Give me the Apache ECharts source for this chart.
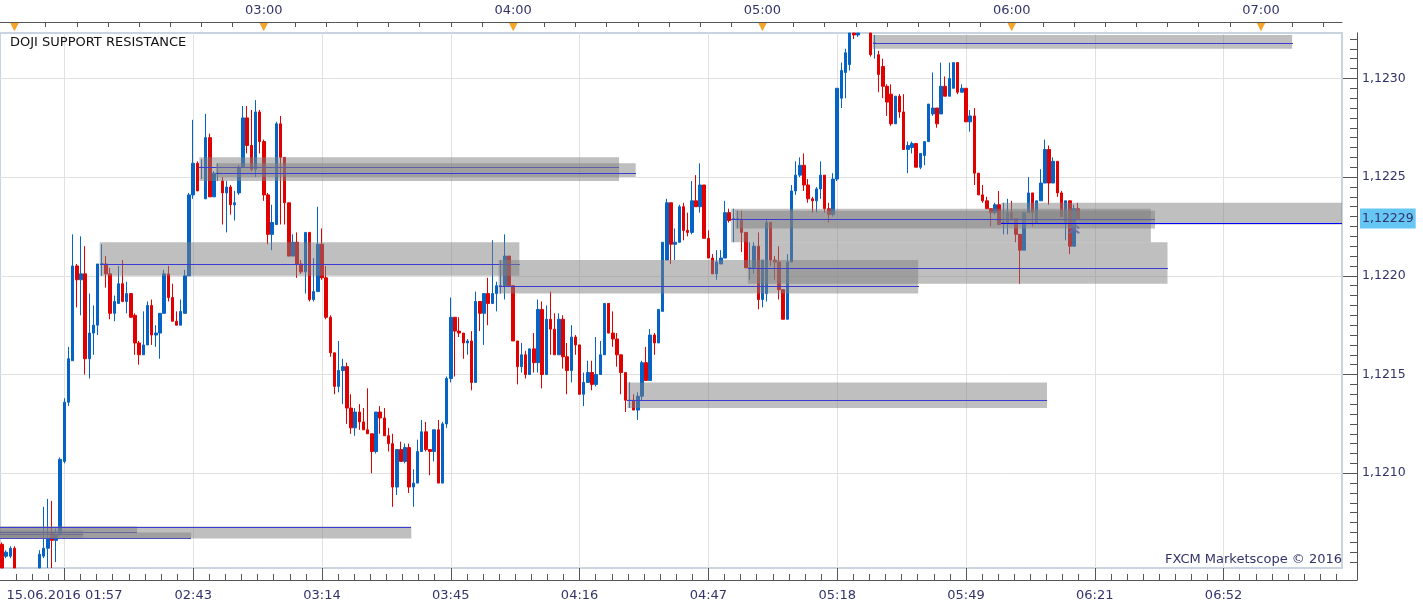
<!DOCTYPE html>
<html>
<head>
<meta charset="UTF-8">
<title>DOJI SUPPORT RESISTANCE</title>
<script src="https://cdn.jsdelivr.net/npm/echarts@6/dist/echarts.min.js"></script>
<style>html,body{margin:0;padding:0;background:#fff}</style>
</head>
<body>
<div id="main" style="width:1423px;height:610px"></div>
<script>
// EUR/USD 1 minute candles, one per slot: [open, close, low, high]
// values past the plot edges are cut at the edge, slots with nothing visible are empty
var E = ['-', '-', '-', '-'];
var candles = [
  [1.12064,1.12052,1.12052,1.12065],[1.12058,1.12060,1.12057,1.12061],[1.12058,1.12062,1.12057,1.12063],[1.12062,1.12052,1.12052,1.12063],
  E, E, E, E,
  E, [1.12052,1.12059,1.12052,1.12061],[1.12058,1.12062,1.12057,1.12083],[1.12062,1.12067,1.12052,1.12087],
  [1.12070,1.12066,1.12052,1.12086],[1.12066,1.12069,1.12055,1.12072],[1.12069,1.12107,1.12068,1.12108],[1.12106,1.12136,1.12105,1.12138],
  [1.12136,1.12158,1.12134,1.12164],[1.12157,1.12205,1.12157,1.12221],[1.12205,1.12198,1.12184,1.12206],[1.12198,1.12201,1.12180,1.12220],
  [1.12201,1.12158,1.12150,1.12215],[1.12158,1.12171,1.12148,1.12191],[1.12171,1.12175,1.12160,1.12185],[1.12175,1.12206,1.12170,1.12206],
  [1.12206,1.12206,1.12200,1.12216],[1.12206,1.12201,1.12194,1.12210],[1.12201,1.12181,1.12178,1.12204],[1.12181,1.12187,1.12177,1.12190],
  [1.12186,1.12196,1.12186,1.12205],[1.12196,1.12187,1.12187,1.12208],[1.12187,1.12191,1.12181,1.12197],[1.12191,1.12179,1.12179,1.12191],
  [1.12180,1.12166,1.12160,1.12181],[1.12166,1.12160,1.12155,1.12167],[1.12160,1.12165,1.12160,1.12182],[1.12165,1.12185,1.12165,1.12187],
  [1.12185,1.12170,1.12165,1.12188],[1.12170,1.12171,1.12164,1.12175],[1.12171,1.12181,1.12158,1.12181],[1.12181,1.12201,1.12181,1.12203],
  [1.12201,1.12189,1.12187,1.12205],[1.12189,1.12177,1.12177,1.12196],[1.12177,1.12175,1.12175,1.12182],[1.12175,1.12182,1.12175,1.12188],
  [1.12181,1.12200,1.12181,1.12203],[1.12200,1.12241,1.12200,1.12242],[1.12241,1.12257,1.12239,1.12279],[1.12257,1.12243,1.12243,1.12258],
  [1.12255,1.12255,1.12249,1.12259],[1.12239,1.12270,1.12239,1.12282],[1.12270,1.12240,1.12240,1.12272],[1.12240,1.12252,1.12240,1.12253],
  [1.12252,1.12252,1.12248,1.12257],[1.12248,1.12242,1.12226,1.12250],[1.12242,1.12245,1.12222,1.12248],[1.12245,1.12236,1.12231,1.12246],
  [1.12236,1.12237,1.12228,1.12243],[1.12242,1.12255,1.12241,1.12256],[1.12255,1.12280,1.12255,1.12286],[1.12280,1.12266,1.12262,1.12286],
  [1.12266,1.12254,1.12253,1.12284],[1.12254,1.12283,1.12250,1.12289],[1.12283,1.12268,1.12262,1.12284],[1.12268,1.12241,1.12238,1.12269],
  [1.12241,1.12221,1.12216,1.12242],[1.12221,1.12227,1.12213,1.12236],[1.12226,1.12277,1.12226,1.12278],[1.12277,1.12260,1.12226,1.12281],
  [1.12260,1.12237,1.12226,1.12260],[1.12237,1.12210,1.12210,1.12237],[1.12210,1.12217,1.12210,1.12221],[1.12217,1.12206,1.12199,1.12222],
  [1.12206,1.12202,1.12201,1.12208],[1.12202,1.12222,1.12191,1.12222],[1.12222,1.12188,1.12187,1.12222],[1.12188,1.12192,1.12187,1.12209],
  [1.12192,1.12216,1.12192,1.12235],[1.12216,1.12199,1.12198,1.12224],[1.12199,1.12179,1.12178,1.12205],[1.12179,1.12161,1.12159,1.12180],
  [1.12161,1.12144,1.12140,1.12161],[1.12144,1.12152,1.12141,1.12167],[1.12152,1.12154,1.12135,1.12158],[1.12154,1.12133,1.12125,1.12156],
  [1.12133,1.12123,1.12120,1.12140],[1.12123,1.12131,1.12119,1.12133],[1.12131,1.12126,1.12122,1.12135],[1.12126,1.12122,1.12122,1.12133],
  [1.12122,1.12120,1.12120,1.12143],[1.12120,1.12111,1.12100,1.12120],[1.12111,1.12131,1.12110,1.12131],[1.12131,1.12128,1.12120,1.12134],
  [1.12128,1.12119,1.12119,1.12133],[1.12119,1.12115,1.12111,1.12123],[1.12115,1.12093,1.12083,1.12120],[1.12093,1.12112,1.12089,1.12112],
  [1.12112,1.12106,1.12106,1.12116],[1.12106,1.12113,1.12105,1.12115],[1.12113,1.12093,1.12090,1.12115],[1.12093,1.12095,1.12083,1.12102],
  [1.12095,1.12111,1.12095,1.12117],[1.12111,1.12121,1.12111,1.12127],[1.12121,1.12112,1.12111,1.12126],[1.12112,1.12111,1.12099,1.12112],
  [1.12111,1.12122,1.12106,1.12122],[1.12122,1.12095,1.12095,1.12127],[1.12095,1.12125,1.12095,1.12126],[1.12125,1.12148,1.12123,1.12149],
  [1.12148,1.12179,1.12146,1.12189],[1.12179,1.12172,1.12149,1.12179],[1.12172,1.12171,1.12169,1.12179],[1.12171,1.12166,1.12158,1.12171],
  [1.12166,1.12167,1.12160,1.12168],[1.12167,1.12146,1.12142,1.12172],[1.12146,1.12187,1.12146,1.12192],[1.12187,1.12181,1.12172,1.12187],
  [1.12181,1.12191,1.12165,1.12191],[1.12191,1.12186,1.12175,1.12199],[1.12186,1.12191,1.12186,1.12218],[1.12191,1.12195,1.12182,1.12197],
  [1.12195,1.12195,1.12191,1.12208],[1.12195,1.12210,1.12188,1.12221],[1.12210,1.12195,1.12195,1.12210],[1.12195,1.12167,1.12167,1.12195],
  [1.12167,1.12154,1.12145,1.12167],[1.12154,1.12160,1.12151,1.12166],[1.12160,1.12150,1.12148,1.12162],[1.12150,1.12163,1.12150,1.12163],
  [1.12163,1.12156,1.12151,1.12171],[1.12156,1.12183,1.12151,1.12188],[1.12183,1.12150,1.12143,1.12187],[1.12150,1.12178,1.12150,1.12185],
  [1.12178,1.12173,1.12160,1.12192],[1.12173,1.12160,1.12160,1.12181],[1.12160,1.12178,1.12160,1.12181],[1.12178,1.12159,1.12153,1.12180],
  [1.12159,1.12152,1.12140,1.12166],[1.12152,1.12169,1.12146,1.12175],[1.12169,1.12165,1.12160,1.12170],[1.12165,1.12140,1.12140,1.12165],
  [1.12140,1.12146,1.12134,1.12151],[1.12146,1.12151,1.12146,1.12157],[1.12151,1.12145,1.12142,1.12157],[1.12145,1.12150,1.12144,1.12169],
  [1.12150,1.12160,1.12150,1.12167],[1.12160,1.12186,1.12160,1.12186],[1.12186,1.12171,1.12171,1.12186],[1.12171,1.12168,1.12164,1.12182],
  [1.12168,1.12160,1.12154,1.12171],[1.12160,1.12151,1.12140,1.12160],[1.12151,1.12137,1.12131,1.12151],[1.12137,1.12137,1.12133,1.12146],
  [1.12137,1.12132,1.12132,1.12140],[1.12132,1.12139,1.12127,1.12141],[1.12139,1.12156,1.12137,1.12157],[1.12156,1.12147,1.12147,1.12164],
  [1.12147,1.12170,1.12147,1.12173],[1.12170,1.12166,1.12160,1.12171],[1.12166,1.12183,1.12166,1.12183],[1.12182,1.12217,1.12182,1.12217],
  [1.12208,1.12237,1.12208,1.12239],[1.12237,1.12216,1.12206,1.12237],[1.12216,1.12217,1.12208,1.12224],[1.12217,1.12235,1.12217,1.12236],
  [1.12235,1.12223,1.12218,1.12237],[1.12223,1.12222,1.12220,1.12232],[1.12222,1.12238,1.12221,1.12248],[1.12238,1.12235,1.12235,1.12251],
  [1.12235,1.12246,1.12232,1.12257],[1.12246,1.12219,1.12219,1.12246],[1.12219,1.12209,1.12209,1.12223],[1.12209,1.12201,1.12201,1.12211],
  [1.12201,1.12207,1.12198,1.12213],[1.12206,1.12209,1.12206,1.12213],[1.12209,1.12232,1.12209,1.12238],[1.12232,1.12228,1.12227,1.12234],
  [1.12229,1.12229,1.12217,1.12234],[1.12229,1.12229,1.12224,1.12233],[1.12228,1.12222,1.12212,1.12233],[1.12222,1.12204,1.12204,1.12222],
  [1.12204,1.12204,1.12198,1.12217],[1.12204,1.12215,1.12201,1.12217],[1.12215,1.12188,1.12183,1.12222],[1.12188,1.12208,1.12184,1.12208],
  [1.12191,1.12227,1.12187,1.12229],[1.12227,1.12208,1.12205,1.12227],[1.12208,1.12207,1.12198,1.12210],[1.12207,1.12193,1.12188,1.12215],
  [1.12193,1.12178,1.12178,1.12193],[1.12178,1.12207,1.12178,1.12211],[1.12207,1.12243,1.12207,1.12246],[1.12243,1.12251,1.12241,1.12258],
  [1.12251,1.12256,1.12250,1.12260],[1.12256,1.12246,1.12243,1.12262],[1.12246,1.12239,1.12237,1.12249],[1.12239,1.12238,1.12232,1.12240],
  [1.12238,1.12244,1.12232,1.12245],[1.12244,1.12251,1.12239,1.12258],[1.12251,1.12234,1.12232,1.12251],[1.12234,1.12231,1.12227,1.12237],
  [1.12231,1.12249,1.12230,1.12252],[1.12249,1.12295,1.12248,1.12295],[1.12290,1.12304,1.12285,1.12308],[1.12303,1.12313,1.12290,1.12315],
  [1.12307,1.12323,1.12304,1.12323],[1.12323,1.12322,1.12320,1.12323],[1.12322,1.12323,1.12321,1.12323],E,
  E, [1.12323,1.12312,1.12311,1.12323],[1.12318,1.12318,1.12310,1.12322],[1.12312,1.12302,1.12293,1.12314],
  [1.12306,1.12296,1.12290,1.12310],[1.12296,1.12288,1.12281,1.12297],[1.12292,1.12277,1.12276,1.12297],[1.12277,1.12291,1.12277,1.12291],
  [1.12291,1.12283,1.12280,1.12292],[1.12283,1.12264,1.12264,1.12292],[1.12264,1.12266,1.12252,1.12268],[1.12265,1.12267,1.12262,1.12268],
  [1.12267,1.12255,1.12255,1.12267],[1.12255,1.12262,1.12254,1.12262],[1.12261,1.12268,1.12256,1.12268],[1.12268,1.12287,1.12268,1.12287],
  [1.12282,1.12285,1.12281,1.12303],[1.12285,1.12277,1.12275,1.12285],[1.12282,1.12296,1.12282,1.12308],[1.12296,1.12291,1.12291,1.12301],
  [1.12291,1.12300,1.12291,1.12308],[1.12295,1.12308,1.12295,1.12308],[1.12308,1.12293,1.12292,1.12308],[1.12293,1.12295,1.12293,1.12297],
  [1.12295,1.12278,1.12278,1.12295],[1.12278,1.12281,1.12273,1.12284],[1.12281,1.12252,1.12246,1.12285],[1.12252,1.12241,1.12241,1.12252],
  [1.12241,1.12238,1.12237,1.12246],[1.12238,1.12234,1.12234,1.12240],[1.12234,1.12232,1.12225,1.12234],[1.12232,1.12236,1.12231,1.12237],
  [1.12236,1.12226,1.12226,1.12243],[1.12227,1.12227,1.12221,1.12237],[1.12227,1.12232,1.12221,1.12239],[1.12232,1.12229,1.12228,1.12238],
  [1.12229,1.12221,1.12217,1.12229],[1.12221,1.12213,1.12196,1.12221],[1.12213,1.12232,1.12213,1.12232],[1.12232,1.12242,1.12232,1.12250],
  [1.12242,1.12232,1.12225,1.12242],[1.12227,1.12238,1.12227,1.12238],[1.12238,1.12247,1.12238,1.12254],[1.12247,1.12264,1.12247,1.12269],
  [1.12264,1.12247,1.12236,1.12266],[1.12247,1.12258,1.12247,1.12260],[1.12258,1.12242,1.12240,1.12258],[1.12242,1.12230,1.12230,1.12243],
  [1.12227,1.12238,1.12218,1.12238],[1.12238,1.12215,1.12211,1.12238],[1.12215,1.12234,1.12215,1.12236],[1.12234,1.12229,1.12229,1.12237]
];

var slotCount = 323;            // minute slots across the plot
var zoneLength = 100;           // a doji zone runs on for 100 slots

// doji support / resistance zones: first slot, doji high, doji low, doji level
var zoneStart = [-81, -68, -55, -2, 24, 48, 52, 120, 151, 176, 177, 180, 210, 241];
var zoneHigh  = [1.12071, 1.12073, 1.12070, 1.12073, 1.12217, 1.12260, 1.12257, 1.12208, 1.12146, 1.12234, 1.12233, 1.12217, 1.12322, 1.12237];
var zoneLow   = [1.12067, 1.12070, 1.12067, 1.12067, 1.12200, 1.12248, 1.12250, 1.12191, 1.12133, 1.12217, 1.12224, 1.12196, 1.12315, 1.12226];
var zoneLevel = [1.12069, 1.12070, 1.12067, 1.12073, 1.12206, 1.12255, 1.12252, 1.12195, 1.12137, 1.12229, 1.12229, 1.12204, 1.12318, 1.12227];

var bottomLabels = ['15.06.2016 01:57', '02:43', '03:14', '03:45', '04:16', '04:47', '05:18', '05:49', '06:21', '06:52'];
var bottomLabelSlots = [15, 46, 77, 108, 139, 170, 201, 232, 263, 294];
var hourLabels = ['02:00', '03:00', '04:00', '05:00', '06:00', '07:00'];
var hourSlots = [3, 63, 123, 183, 243, 303];
var priceTicks = [1.1210, 1.1215, 1.1220, 1.1225, 1.1230];
var priceMin = 1.12052, priceMax = 1.12323;
var lastPrice = 1.12229;
var signalSlot = 258, signalPrice = 1.12224;

var chartTitle = 'DOJI SUPPORT RESISTANCE';
var watermark = 'FXCM Marketscope \u00a9 2016';

// slot names (there is a gap in the feed between 01:57 and 02:43)
var categories = [];
for (var k = 0; k < slotCount; k++) {
  var m = k < 46 ? 117 + (k - 15) : 163 + (k - 46);
  categories.push(('0' + Math.floor(m / 60)).slice(-2) + ':' + ('0' + (m % 60)).slice(-2));
}
// minor tick positions
var bottomMinor = [];
for (var j = -3; j < 80; j++) bottomMinor.push(15 + j * 3.875);
var topMinor = [];
for (var j = 0; j < 43; j++) topMinor.push(3 + j * 7.5);
var priceMinor = [];
for (var p = 112055; p <= 112320; p += 5) priceMinor.push(p / 100000);

var FONT = 'DejaVu Sans';
var NAVY = '#33336b';
var AXIS = '#555555';
var GRIDLINE = '#e1e1e1';
var BLUE = '#0563c6', RED = '#e00000';

function valueX(extra) {
  var base = {
    type: 'value', gridIndex: 0, min: -0.5, max: slotCount - 0.5,
    axisLine: { show: false, onZero: false },
    axisTick: { show: false },
    axisLabel: { show: false },
    splitLine: { show: false }
  };
  for (var key in extra) base[key] = extra[key];
  return base;
}
function priceY(extra) {
  var base = {
    type: 'value', position: 'right', offset: 15, min: priceMin, max: priceMax,
    axisLine: { show: false, onZero: false },
    axisTick: { show: false },
    axisLabel: { show: false },
    splitLine: { show: false }
  };
  for (var key in extra) base[key] = extra[key];
  return base;
}
// bare axis line of the outer frame (bottom and right edges meet in a corner)
function frameAxis(extra) {
  var base = {
    type: 'value', gridIndex: 1, min: 0, max: 1,
    axisLine: { show: true, onZero: false, lineStyle: { color: AXIS } },
    axisTick: { show: false }, axisLabel: { show: false }, splitLine: { show: false }
  };
  for (var key in extra) base[key] = extra[key];
  return base;
}

var chart = echarts.init(document.getElementById('main'));

var option = {
  animation: false,
  backgroundColor: '#ffffff',
  textStyle: { fontFamily: FONT },
  grid: [
    {
      left: -1, right: 81, top: 33, bottom: 42,
      show: true, backgroundColor: '#ffffff', borderColor: '#c9d4e1', borderWidth: 2
    },
    { left: -1, right: 66, top: 33, bottom: 30, show: false }
  ],
  xAxis: [
    { type: 'category', data: categories, boundaryGap: true, show: false },
    valueX({
      position: 'bottom', offset: 12,
      axisLine: { show: true, onZero: false, lineStyle: { color: AXIS } },
      axisTick: { show: true, inside: true, length: 12, customValues: bottomLabelSlots, lineStyle: { color: AXIS } },
      axisLabel: {
        show: true, customValues: bottomLabelSlots, margin: 9, color: NAVY, fontSize: 13, fontFamily: FONT,
        formatter: function (v) { return bottomLabels[bottomLabelSlots.indexOf(v)]; }
      },
      splitLine: { show: true, lineStyle: { color: GRIDLINE, width: 1 } }
    }),
    valueX({
      position: 'bottom', offset: 12,
      axisTick: { show: true, inside: true, length: 6, customValues: bottomMinor, lineStyle: { color: AXIS } }
    }),
    valueX({
      position: 'top', offset: 11,
      axisLine: { show: true, onZero: false, lineStyle: { color: AXIS } },
      axisTick: { show: true, inside: true, length: 5, customValues: topMinor, lineStyle: { color: AXIS } },
      axisLabel: {
        show: true, customValues: hourSlots.slice(1), margin: 5, color: NAVY, fontSize: 13, fontFamily: FONT,
        formatter: function (v) { return hourLabels[hourSlots.indexOf(v)]; }
      }
    }),
    valueX({
      position: 'top', offset: 11,
      axisLabel: {
        show: true, inside: true, customValues: hourSlots, margin: 0, color: '#f5a428', fontSize: 11,
        formatter: function () { return '\u25BC'; }
      }
    }),
    frameAxis({ position: 'bottom' })
  ],
  yAxis: [
    priceY({
      axisLine: { show: true, onZero: false, lineStyle: { color: AXIS } },
      axisTick: { show: true, inside: true, length: 14, customValues: priceTicks, lineStyle: { color: AXIS } },
      axisLabel: {
        show: true, customValues: priceTicks, margin: 5, color: NAVY, fontSize: 12.5, fontFamily: FONT,
        formatter: function (v) { return v.toFixed(4).replace('.', ','); }
      },
      splitLine: { show: true, lineStyle: { color: GRIDLINE, width: 1 } }
    }),
    priceY({
      axisTick: { show: true, inside: true, length: 7, customValues: priceMinor, lineStyle: { color: AXIS } }
    }),
    priceY({
      axisLabel: {
        show: true, customValues: [lastPrice], margin: 3, color: NAVY, fontSize: 12.5, fontFamily: FONT,
        backgroundColor: '#66c7f4', padding: [4, 2, 3, 2],
        formatter: function (v) { return v.toFixed(5).replace('.', ','); }
      }
    }),
    frameAxis({ position: 'right' })
  ],
  graphic: [
    { type: 'text', left: 10, top: 36, z: 20, style: { text: chartTitle, font: '13px "DejaVu Sans"', fill: '#111111' } },
    { type: 'text', right: 81, bottom: 44, z: 20, style: { text: watermark, font: '13px "DejaVu Sans"', fill: NAVY } }
  ],
  series: [
    {
      type: 'candlestick',
      xAxisIndex: 0, yAxisIndex: 0,
      data: candles,
      barWidth: 3,
      clip: true,
      silent: true,
      z: 2,
      itemStyle: {
        color: BLUE, color0: RED, borderColor: BLUE, borderColor0: RED, borderColorDoji: BLUE, borderWidth: 1
      },
      markPoint: {
        silent: true,
        symbol: 'path://M0,5 L5,0 L10,5 L8.5,6.5 L5,3 L1.5,6.5 Z M0,10 L5,5 L10,10 L8.5,11.5 L5,8 L1.5,11.5 Z',
        symbolSize: [12, 11],
        itemStyle: { color: 'rgba(85,85,215,0.85)' },
        label: { show: false },
        data: [{ coord: [signalSlot, signalPrice] }]
      }
    },
    {
      type: 'custom',
      xAxisIndex: 1, yAxisIndex: 0,
      silent: true,
      z: 5,
      data: zoneStart.map(function (s, i) { return [s, zoneHigh[i], zoneLow[i], zoneLevel[i]]; }),
      encode: { x: 0, y: [1, 2] },
      renderItem: function (params, api) {
        var s = api.value(0);
        var p0 = api.coord([s - 0.5, api.value(1)]);
        var p1 = api.coord([s + zoneLength + 0.5, api.value(2)]);
        var lv = Math.round(api.coord([0, api.value(3)])[1]);
        var cs = params.coordSys;
        var rect = echarts.graphic.clipRectByRect(
          { x: p0[0], y: p0[1], width: p1[0] - p0[0], height: p1[1] - p0[1] },
          { x: cs.x, y: cs.y, width: cs.width, height: cs.height }
        );
        if (!rect) return;
        var latest = params.dataIndex === zoneStart.length - 1;
        return {
          type: 'group',
          children: [
            { type: 'rect', shape: rect, style: { fill: 'rgba(128,128,128,0.5)' } },
            { type: 'rect', shape: { x: Math.round(rect.x), y: lv, width: Math.round(rect.width), height: 1 },
              style: { fill: latest ? '#0000ff' : '#3c3cd2' } }
          ]
        };
      }
    }
  ]
};

chart.setOption(option);
</script>
</body>
</html>
